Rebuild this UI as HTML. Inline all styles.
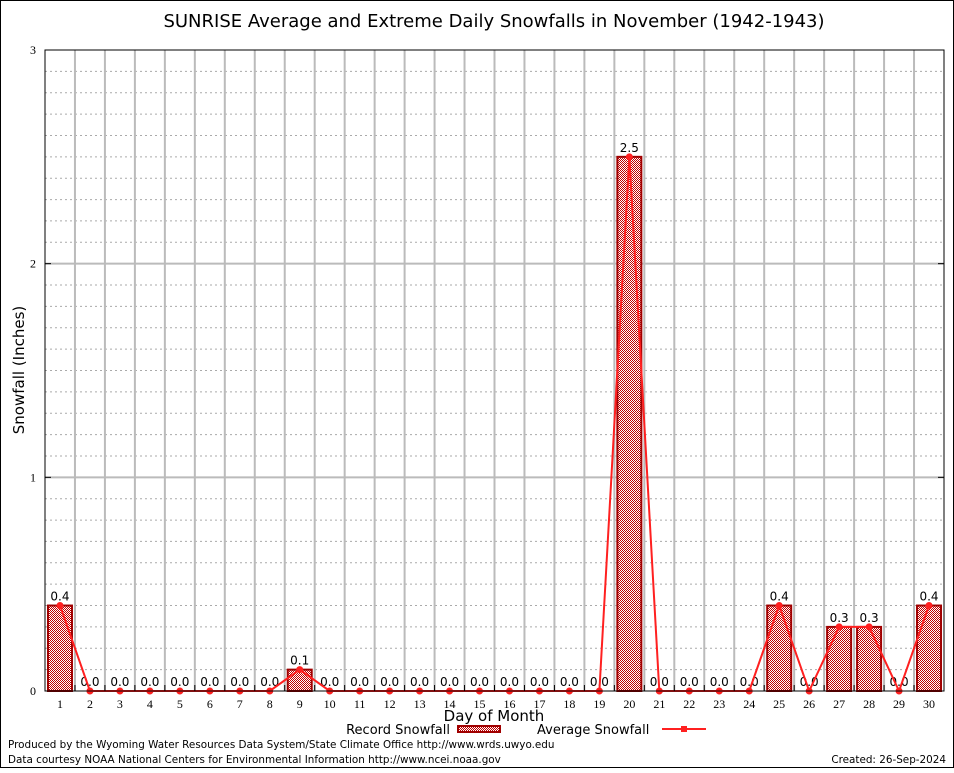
<!DOCTYPE html>
<html><head><meta charset="utf-8"><style>
body{margin:0;background:#fff;}
svg text{font-family:"DejaVu Sans","Liberation Sans",sans-serif;}
svg text.serif{font-family:"Liberation Serif",serif;}
</style></head><body>
<svg id="c" width="954" height="768" viewBox="0 0 954 768" xmlns="http://www.w3.org/2000/svg">
<defs>
<pattern id="chk" width="2" height="2" patternUnits="userSpaceOnUse">
<rect width="2" height="2" fill="#fff"/><rect width="1" height="1" fill="#c00000"/><rect x="1" y="1" width="1" height="1" fill="#c00000"/>
</pattern>
</defs>
<rect x="0.5" y="0.5" width="953" height="767" fill="#fff" stroke="#000"/>
<text x="494" y="27" font-size="18" text-anchor="middle">SUNRISE Average and Extreme Daily Snowfalls in November (1942-1943)</text>
<g id="grid"></g>
<g id="bars"></g>
<g id="line"></g>
<g id="axes"></g>
<text x="24" y="370" font-size="15" text-anchor="middle" transform="rotate(-90 24 370)">Snowfall (Inches)</text>
<text x="494" y="721" font-size="15" text-anchor="middle">Day of Month</text>
<g>
<text x="450" y="734" font-size="13" text-anchor="end">Record Snowfall</text>
<rect x="458" y="726" width="42" height="6" fill="url(#chk)" stroke="#a00000" stroke-width="2"/>
<text x="537" y="734" font-size="13">Average Snowfall</text>
<line x1="662" y1="729" x2="706" y2="729" stroke="#ff2020" stroke-width="2"/>
<rect x="681" y="726" width="6" height="6" fill="#ff2020"/>
</g>
<text x="8" y="748" font-size="10.4">Produced by the Wyoming Water Resources Data System/State Climate Office http://www.wrds.uwyo.edu</text>
<text x="8" y="763" font-size="10.4">Data courtesy NOAA National Centers for Environmental Information http://www.ncei.noaa.gov</text>
<text x="946" y="763" font-size="10.4" text-anchor="end">Created:  26-Sep-2024</text>
</svg>
<script>
const days=[1,2,3,4,5,6,7,8,9,10,11,12,13,14,15,16,17,18,19,20,21,22,23,24,25,26,27,28,29,30];
const records=[0.4,0,0,0,0,0,0,0,0.1,0,0,0,0,0,0,0,0,0,0,2.5,0,0,0,0,0.4,0,0.3,0.3,0,0.4];
const averages=[0.4,0,0,0,0,0,0,0,0.1,0,0,0,0,0,0,0,0,0,0,2.5,0,0,0,0,0.4,0,0.3,0.3,0,0.4];
const yTicks=[0,1,2,3];
const L=45,R=944,T=50,B=691,yMax=3;
const X=d=>L+(d-0.5)*(R-L)/30;
const Y=v=>B-v*(B-T)/yMax;
const NS="http://www.w3.org/2000/svg";
function mk(tag,attrs,parent){const e=document.createElementNS(NS,tag);for(const k in attrs)e.setAttribute(k,attrs[k]);parent.appendChild(e);return e;}
const g=document.getElementById('grid'),ba=document.getElementById('bars'),li=document.getElementById('line'),ax=document.getElementById('axes');
for(let i=1;i<30;i++){const v=i/10;if(v>=yMax)break;if(i%10===0)continue;
const l=mk('line',{x1:L,x2:R,y1:Y(v),y2:Y(v),stroke:'#aaa','stroke-dasharray':'2,3','stroke-width':1},g);

}
yTicks.forEach(t=>{if(t>0&&t<yMax){const l=mk('line',{x1:L,x2:R,y1:Y(t),y2:Y(t),stroke:'#bbb','stroke-width':2},g);

}
const tx=mk('text',{x:L-9,y:Y(t)+4,'font-size':12,'text-anchor':'end','class':'serif'},ax);tx.textContent=t;


const tk=mk('line',{x1:L,x2:L+6,y1:Y(t),y2:Y(t),stroke:'#000'},ax);


const tk2=mk('line',{x1:R-6,x2:R,y1:Y(t),y2:Y(t),stroke:'#000'},ax);

});
for(let d=1;d<30;d++){const x=X(d+0.5);const l=mk('line',{x1:x,x2:x,y1:T,y2:B,stroke:'#bbb','stroke-width':2},g);


const tk=mk('line',{x1:x,x2:x,y1:B-6,y2:B,stroke:'#000'},ax);

}
days.forEach((d,i)=>{const v=records[i];if(v>0){const r=mk('rect',{x:X(d)-12,y:Y(v),width:24,height:B-Y(v),fill:'url(#chk)',stroke:'#a00000','stroke-width':2},ba);

}
const t=mk('text',{x:X(d),y:Y(v)-5,'font-size':12,'text-anchor':'middle'},ba);t.textContent=v.toFixed(1);


const dl=mk('text',{x:X(d),y:B+17,'font-size':12,'text-anchor':'middle','class':'serif'},ax);dl.textContent=d;

});
const pl=mk('polyline',{points:days.map((d,i)=>X(d)+','+Y(averages[i])).join(' '),fill:'none',stroke:'#ff2020','stroke-width':2},li);


days.forEach((d,i)=>{const c=mk('circle',{cx:X(d),cy:Y(averages[i]),r:3.5,fill:'#ff2020'},li);

});
const fr=mk('rect',{x:L,y:T,width:R-L,height:B-T,fill:'none',stroke:'#000','stroke-width':1},ax);


</script>
</body></html>
